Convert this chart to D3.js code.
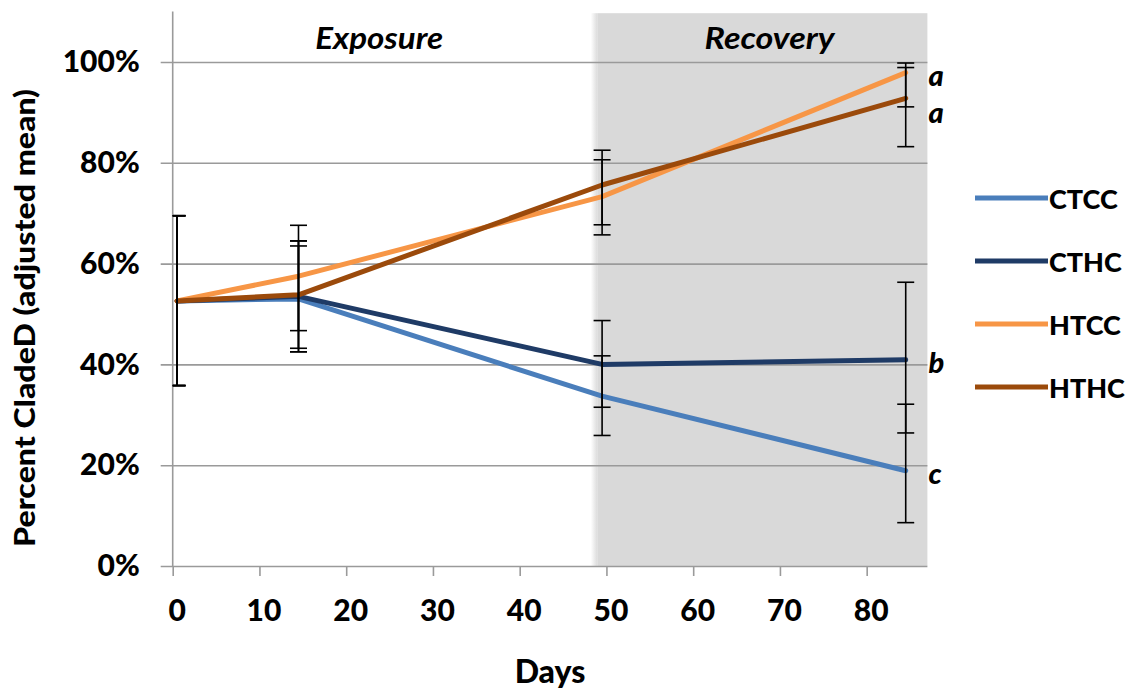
<!DOCTYPE html>
<html>
<head>
<meta charset="utf-8">
<script src="https://cdn.jsdelivr.net/npm/d3@7/dist/d3.min.js"></script>
<style>
  html, body { margin: 0; padding: 0; background: #ffffff; }
  svg { display: block; font-family: Lato, "Open Sans", sans-serif; }
</style>
</head>
<body>
<svg id="chart" width="1131" height="691"></svg>
<script>
// ---- data ----
const seriesNames = ["CTCC", "CTHC", "HTCC", "HTHC"];
const days = [0.5, 14.5, 49.5, 84.5];

const ctccMean = [52.6, 53.0, 33.7, 18.9];
const cthcMean = [52.6, 53.5, 40.0, 40.9];
const htccMean = [52.6, 57.5, 73.3, 97.9];
const hthcMean = [52.6, 53.8, 75.6, 92.8];

const ctccUpper = [69.5, 63.5, 41.7, 32.1];
const ctccLower = [35.8, 42.5, 25.9, 8.6];
const cthcUpper = [69.5, 64.5, 48.7, 56.3];
const cthcLower = [35.8, 42.5, 31.5, 26.4];
const htccUpper = [69.5, 67.6, 80.6, 99.8];
const htccLower = [35.8, 46.7, 65.7, 91.1];
const hthcUpper = [69.5, 64.5, 82.5, 98.9];
const hthcLower = [35.8, 43.2, 67.7, 83.2];

const groupLetters = ["c", "b", "a", "a"];

const phaseNames = ["Exposure", "Recovery"];
const phaseStart = [0, 49];
const phaseEnd = [49, 87];

const xTicks = [0, 10, 20, 30, 40, 50, 60, 70, 80];
const yTicks = [0, 20, 40, 60, 80, 100];

const colors = ["#4a7ebb", "#1f3b66", "#f79646", "#9b4a0b"];

const series = seriesNames.map((name, i) => ({
  name,
  color: colors[i],
  letter: groupLetters[i],
  mean: [ctccMean, cthcMean, htccMean, hthcMean][i],
  upper: [ctccUpper, cthcUpper, htccUpper, hthcUpper][i],
  lower: [ctccLower, cthcLower, htccLower, hthcLower][i]
}));

// ---- layout ----
const svg = d3.select("#chart");
const plotLeft = 172.7, plotRight = 927.4, plotTop = 11.6, plotBottom = 566;

const x = d3.scaleLinear().domain([0, 87]).range([plotLeft, plotRight]);
const y = d3.scaleLinear().domain([0, 110]).range([plotBottom, plotTop]);

// shading for the recovery phase, with a soft left edge
const defs = svg.append("defs");
const grad = defs.append("linearGradient").attr("id", "edge").attr("x1", "0").attr("x2", "1");
grad.append("stop").attr("offset", "0").attr("stop-color", "#ffffff");
grad.append("stop").attr("offset", "1").attr("stop-color", "#d9d9d9");

const shadeX = x(phaseStart[1]);
svg.append("rect")
  .attr("x", shadeX).attr("y", plotTop + 1.6)
  .attr("width", x(phaseEnd[1]) - shadeX).attr("height", plotBottom - plotTop - 1.6)
  .attr("fill", "#d9d9d9");
svg.append("rect")
  .attr("x", shadeX - 7).attr("y", plotTop + 1.6)
  .attr("width", 7).attr("height", plotBottom - plotTop - 1.6)
  .attr("fill", "url(#edge)");

// horizontal gridlines + y tick labels
const yAxis = d3.axisLeft(y)
  .tickValues(yTicks)
  .tickSize(-(plotRight - plotLeft + 12))
  .tickPadding(21)
  .tickFormat(d => d + "%");
const gy = svg.append("g").attr("transform", `translate(${plotLeft - 12},0)`).call(yAxis);
gy.select(".domain").remove();
gy.selectAll(".tick line").attr("stroke", "#9a9a9a").attr("stroke-width", 1.6);
gy.selectAll(".tick text")
  .attr("fill", "#000").attr("font-size", 30).attr("font-weight", 900)
  .attr("font-family", "Lato, sans-serif");

// vertical axis line
svg.append("line")
  .attr("x1", plotLeft).attr("x2", plotLeft).attr("y1", plotTop).attr("y2", plotBottom)
  .attr("stroke", "#9a9a9a").attr("stroke-width", 1.6);

// x axis ticks + labels
const xAxis = d3.axisBottom(x).tickValues(xTicks).tickSize(10).tickSizeOuter(0).tickFormat(d3.format("d"));
const gx = svg.append("g").attr("transform", `translate(0,${plotBottom})`).call(xAxis);
gx.select(".domain").remove();
gx.selectAll(".tick line").attr("stroke", "#9a9a9a").attr("stroke-width", 1.6);
gx.selectAll(".tick text")
  .attr("fill", "#000").attr("font-size", 30).attr("font-weight", 900)
  .attr("font-family", "Lato, sans-serif")
  .attr("dx", 4).attr("y", 44).attr("dy", "0.35em");

// phase titles
const phaseWidths = [128, 130];
const phaseShift = [-6, 7];
phaseNames.forEach((p, i) => {
  svg.append("text")
    .attr("x", (x(phaseStart[i]) + x(phaseEnd[i])) / 2 + phaseShift[i])
    .attr("y", 37)
    .attr("text-anchor", "middle").attr("dominant-baseline", "central")
    .attr("font-size", 30).attr("font-weight", 700).attr("font-style", "italic")
    .attr("textLength", phaseWidths[i]).attr("lengthAdjust", "spacingAndGlyphs")
    .text(p);
});

// lines
const line = d3.line().x((d, i) => x(days[i])).y(d => y(d));
series.forEach(s => {
  svg.append("path")
    .datum(s.mean)
    .attr("d", line)
    .attr("fill", "none")
    .attr("stroke", s.color)
    .attr("stroke-width", 5)
    .attr("stroke-linejoin", "round")
    .attr("stroke-linecap", "round");
});

// error bars
const cap = 8.5;
series.forEach(s => {
  const g = svg.append("g").attr("stroke", "#000").attr("stroke-width", 1.6);
  days.forEach((d, i) => {
    const cx = x(d);
    g.append("line").attr("x1", cx).attr("x2", cx).attr("y1", y(s.upper[i])).attr("y2", y(s.lower[i]));
    [s.upper[i], s.lower[i]].forEach(v => {
      g.append("line")
        .attr("x1", Math.max(plotLeft, cx - cap)).attr("x2", cx + cap)
        .attr("y1", y(v)).attr("y2", y(v));
    });
  });
});

// significance letters at the last sampling day, spaced so they do not overlap
const last = days.length - 1;
const letterPos = series.map(s => ({ s, yy: y(s.mean[last]) })).sort((a, b) => a.yy - b.yy);
for (let i = 1; i < letterPos.length; i++) {
  if (letterPos[i].yy - letterPos[i - 1].yy < 37) letterPos[i].yy = letterPos[i - 1].yy + 37;
}
letterPos.forEach(p => {
  svg.append("text")
    .attr("x", plotRight + 1)
    .attr("y", p.yy + 2)
    .attr("dominant-baseline", "central")
    .attr("font-size", 29).attr("font-weight", 900).attr("font-style", "italic")
    .text(p.s.letter);
});

// axis titles
svg.append("text")
  .attr("transform", "translate(24,318) rotate(-90)")
  .attr("text-anchor", "middle").attr("dominant-baseline", "central")
  .attr("font-size", 28).attr("font-weight", 900)
  .attr("textLength", 458).attr("lengthAdjust", "spacingAndGlyphs")
  .text("Percent CladeD (adjusted mean)");

svg.append("text")
  .attr("x", 550).attr("y", 670)
  .attr("text-anchor", "middle").attr("dominant-baseline", "central")
  .attr("font-size", 32).attr("font-weight", 900)
  .text("Days");

// legend
const legend = svg.append("g");
series.forEach((s, i) => {
  const ly = 198 + i * 63;
  legend.append("line")
    .attr("x1", 975).attr("x2", 1048).attr("y1", ly).attr("y2", ly)
    .attr("stroke", s.color).attr("stroke-width", 5);
  legend.append("text")
    .attr("x", 1049).attr("y", ly)
    .attr("dominant-baseline", "central")
    .attr("font-size", 27).attr("font-weight", 900)
    .text(s.name);
});
</script>
</body>
</html>
